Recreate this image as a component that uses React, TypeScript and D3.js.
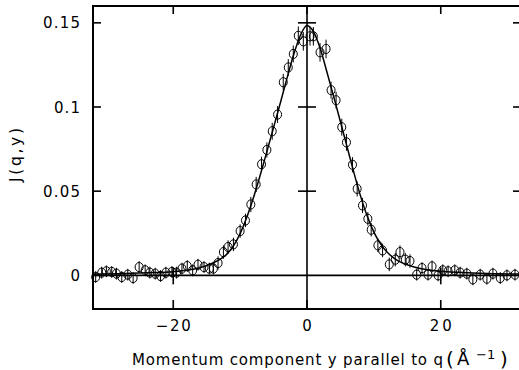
import React from "react";
import * as d3 from "d3";

const dataX = [-31.6,-30.7,-30.0,-29.2,-28.5,-27.7,-26.8,-26.0,-25.1,-24.2,-23.5,-22.7,-21.9,-21.1,-20.2,-19.5,-18.7,-17.9,-17.1,-16.3,-15.4,-14.6,-14.0,-13.3,-12.5,-11.8,-11.0,-10.0,-9.2,-8.4,-7.6,-6.8,-6.0,-5.2,-4.4,-3.55,-2.8,-2.05,-1.3,-0.55,0.45,0.95,1.95,2.85,3.6,4.35,5.2,5.9,6.8,7.5,8.3,9.1,9.6,10.6,11.3,12.3,13.2,13.9,14.7,15.4,16.4,17.2,18.1,18.7,19.6,20.3,21.1,22.1,22.9,23.9,24.8,25.9,26.9,27.8,28.9,29.9,31.1];
const dataY = [-0.001,0.0016,0.0024,0.002,0.001,-0.001,0.0004,-0.0016,0.0049,0.003,0.0016,0.001,-0.0004,0.0016,0.002,0.0016,0.004,0.0055,0.003,0.0063,0.0049,0.004,0.004,0.0073,0.0138,0.0168,0.0184,0.0263,0.0326,0.0421,0.054,0.066,0.0745,0.0856,0.0955,0.1147,0.1235,0.1315,0.1423,0.139,0.142,0.142,0.1325,0.1345,0.110,0.104,0.088,0.079,0.0657,0.0514,0.0415,0.0336,0.0271,0.0178,0.0148,0.0065,0.0093,0.0138,0.0093,0.0085,0.0004,0.0043,0.0004,0.0053,0,0.003,0.0024,0.003,0.0016,0.001,-0.0024,0.0004,-0.002,0.001,-0.0016,0,0.0004];
const dataErr = [0.0035,0.0035,0.0035,0.0035,0.0035,0.0035,0.0035,0.0035,0.0035,0.0035,0.0035,0.0035,0.0035,0.0035,0.0035,0.0035,0.0035,0.0035,0.0035,0.0035,0.0035,0.0035,0.0035,0.004,0.004,0.004,0.004,0.004,0.004,0.0045,0.0045,0.0045,0.0045,0.005,0.005,0.005,0.005,0.005,0.0055,0.0055,0.0055,0.0055,0.0055,0.0055,0.005,0.005,0.005,0.005,0.0045,0.0045,0.0045,0.004,0.004,0.004,0.004,0.004,0.004,0.004,0.004,0.004,0.0035,0.0035,0.0035,0.0035,0.0035,0.0035,0.0035,0.0035,0.0035,0.0035,0.0035,0.0035,0.0035,0.0035,0.0035,0.0035,0.0035];

const curveX = [-32,-28,-24,-20,-18,-16,-14,-13,-12,-11,-10,-9,-8,-7,-6,-5,-4,-3,-2,-1,0,1,2,3,4,5,6,7,8,9,10,11,12,13,14,16,18,20,24,28,32];
const curveY = [0.0008,0.001,0.0015,0.0022,0.003,0.0045,0.0075,0.0095,0.0125,0.0175,0.0248,0.0345,0.0462,0.0595,0.0735,0.0878,0.1022,0.117,0.131,0.1425,0.1484,0.1445,0.1345,0.1205,0.106,0.0912,0.0762,0.0612,0.0472,0.0352,0.0257,0.0187,0.0137,0.0102,0.0078,0.005,0.0033,0.0024,0.0015,0.001,0.0008];

const xTicks = [-20, 0, 20];
const xTickLabels = ["\u221220", "0", "20"];
const yTicks = [0, 0.05, 0.1, 0.15];
const yTickLabels = ["0", "0.05", "0.1", "0.15"];
const xLabelWidths = [35, 10, 22];
const yLabelWidths = [10, 37, 26, 37];

export default function App() {
  const left = 93, right = 521, top = 6, bottom = 309;
  const x = d3.scaleLinear().domain([-32, 32]).range([left, right]);
  const y = d3.scaleLinear().domain([-0.02, 0.16]).range([bottom, top]);
  const line = d3.line<number>().x((_, i) => x(curveX[i])).y((d) => y(d)).curve(d3.curveMonotoneX);
  const font = "'DejaVu Sans', Verdana, sans-serif";
  const x0 = x(0), y0 = y(0);
  return (
    <svg width={519} height={370} style={{ position: "absolute", left: 0, top: 0, background: "#fff" }}>
      <rect x={0} y={0} width={519} height={370} fill="#fff" />
      <rect x={left} y={top} width={right - left} height={bottom - top} fill="none" stroke="#000" strokeWidth={2} />
      <line x1={left} x2={right} y1={y0} y2={y0} stroke="#000" strokeWidth={1.6} />
      <line x1={x0} x2={x0} y1={top} y2={bottom} stroke="#000" strokeWidth={1.6} />
      {yTicks.map((t, i) => (
        <g key={"yt" + i}>
          <line x1={left} x2={left + 8} y1={y(t)} y2={y(t)} stroke="#000" strokeWidth={1.6} />
          <line x1={right - 8} x2={right} y1={y(t)} y2={y(t)} stroke="#000" strokeWidth={1.6} />
          {t !== 0 && <line x1={x0 - 9} x2={x0 + 9} y1={y(t)} y2={y(t)} stroke="#000" strokeWidth={1.6} />}
          <text x={80} y={y(t)} dy="0.37em" textAnchor="end" fontFamily={font} fontSize={15}
            textLength={yLabelWidths[i]} lengthAdjust="spacing">{yTickLabels[i]}</text>
        </g>
      ))}
      {xTicks.map((t, i) => (
        <g key={"xt" + i}>
          <line x1={x(t)} x2={x(t)} y1={top} y2={top + 8} stroke="#000" strokeWidth={1.6} />
          <line x1={x(t)} x2={x(t)} y1={bottom - 9} y2={bottom} stroke="#000" strokeWidth={1.6} />
          {t !== 0 && <line x1={x(t)} x2={x(t)} y1={y0 - 8} y2={y0 + 9} stroke="#000" strokeWidth={1.6} />}
          <text x={x(t)} y={331} textAnchor="middle" fontFamily={font} fontSize={15}
            textLength={xLabelWidths[i]} lengthAdjust="spacing">{xTickLabels[i]}</text>
        </g>
      ))}
      <path d={line(curveY) || ""} fill="none" stroke="#000" strokeWidth={1.5} />
      {dataX.map((dx, i) => (
        <g key={"p" + i}>
          <line x1={x(dx)} x2={x(dx)} y1={y(dataY[i] - dataErr[i])} y2={y(dataY[i] + dataErr[i])} stroke="#000" strokeWidth={1} />
          <ellipse cx={x(dx)} cy={y(dataY[i])} rx={4} ry={4.6} fill="none" stroke="#000" strokeWidth={1} />
        </g>
      ))}
      <text x={132} y={365} fontFamily={font} fontSize={15} textLength={311} lengthAdjust="spacing">
        Momentum component y parallel to q
      </text>
      <text x={446} y={366} fontFamily={font} fontSize={20}>(</text>
      <text x={457} y={365} fontFamily={font} fontSize={18}>Å</text>
      <text x={476} y={359} fontFamily={font} fontSize={13}>{"\u22121"}</text>
      <text x={500} y={366} fontFamily={font} fontSize={20}>)</text>
      <text transform="translate(21,155) rotate(-90)" textAnchor="middle" fontFamily={font} fontSize={15.5}
        textLength={54} lengthAdjust="spacing">J(q,y)</text>
    </svg>
  );
}
